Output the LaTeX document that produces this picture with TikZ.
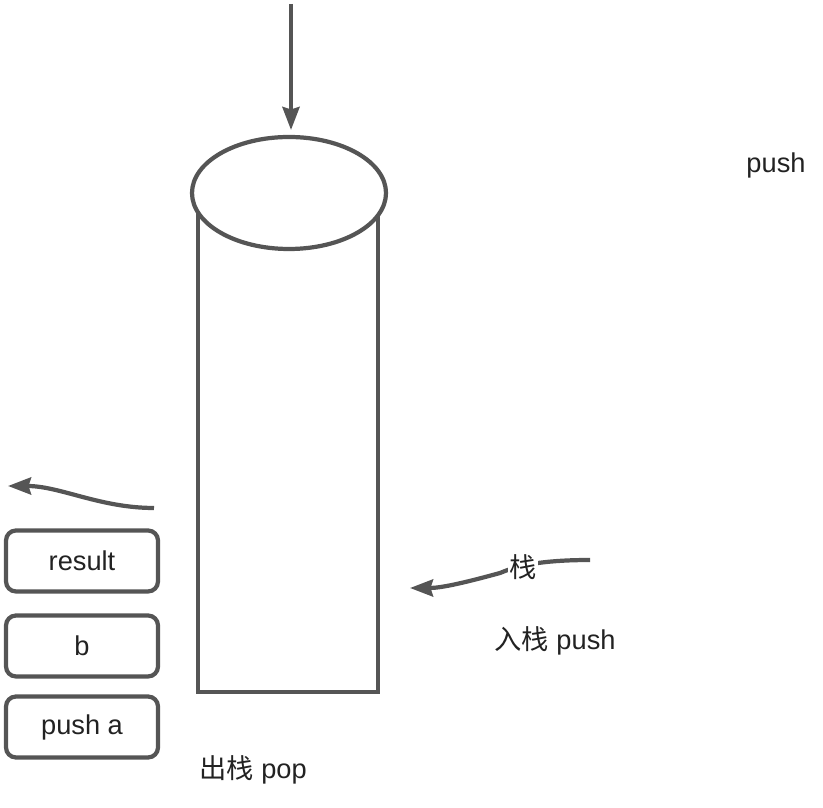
\documentclass[tikz,border=0pt]{standalone}
\usepackage{fontspec}
\setmainfont{Liberation Sans}
\newfontfamily\cjk{Noto Sans CJK SC}
\usetikzlibrary{arrows.meta,shapes.geometric}
\definecolor{linegray}{HTML}{555555}
\definecolor{textgray}{HTML}{222222}

\begin{document}
\begin{tikzpicture}[line width=2.4pt,
    >={Stealth[length=0.46cm,width=0.34cm,inset=0.05cm]},
    every node/.style={text=textgray,font=\fontsize{15.5}{18}\selectfont}]
\useasboundingbox (0,0) rectangle (16.46,16.14);

% stack body
\begin{scope}[every node/.style={draw=linegray,line width=2.4pt,inner sep=0pt}]
    \node[rectangle,minimum width=3.6cm,minimum height=9.54cm] (body) at (5.76,7.07) {};
    \node[ellipse,fill=white,minimum width=3.88cm,minimum height=2.24cm] (mouth) at (5.78,12.28) {};
\end{scope}

% items on the left
\begin{scope}[every node/.style={draw=linegray,line width=2.4pt,rounded corners=0.2cm,
    minimum width=3.04cm,minimum height=1.22cm,text=textgray,
    font=\fontsize{15.5}{18}\selectfont}]
    \node (result) at (1.64,4.92) {result};
    \node (b) at (1.64,3.22) {b};
    \node (pusha) at (1.64,1.6) {push a};
\end{scope}

% labels
\node (push) at (15.52,12.84) {push};
\node (pop) at (5.06,0.74) {{\cjk 出栈} pop};
\node (pushin) at (11.1,3.32) {{\cjk 入栈} push};

% arrows
\coordinate (top) at (5.82,16.06);
\coordinate (mouthin) at (5.82,13.54);
\coordinate (popstart) at (3.08,5.98);
\coordinate (popend) at (0.16,6.42);
\coordinate (instart) at (11.8,4.94);
\coordinate (inend) at (8.2,4.38);

\begin{scope}[every path/.style={draw=linegray}]
    \path [->,draw=linegray] (top) -- (mouthin);
    \path [->,draw=linegray] (popstart) .. controls (2.0,5.98) and (1.2,6.42) .. (popend);
    \path [->,draw=linegray] (instart) .. controls (10.6,4.94) and (10.2,4.76) .. (10.0,4.68)
        .. controls (9.2,4.46) and (8.8,4.38) .. (inend);
\end{scope}
\node[fill=white,inner sep=1pt] (stack) at (10.46,4.8) {\cjk 栈};
\end{tikzpicture}
\end{document}
